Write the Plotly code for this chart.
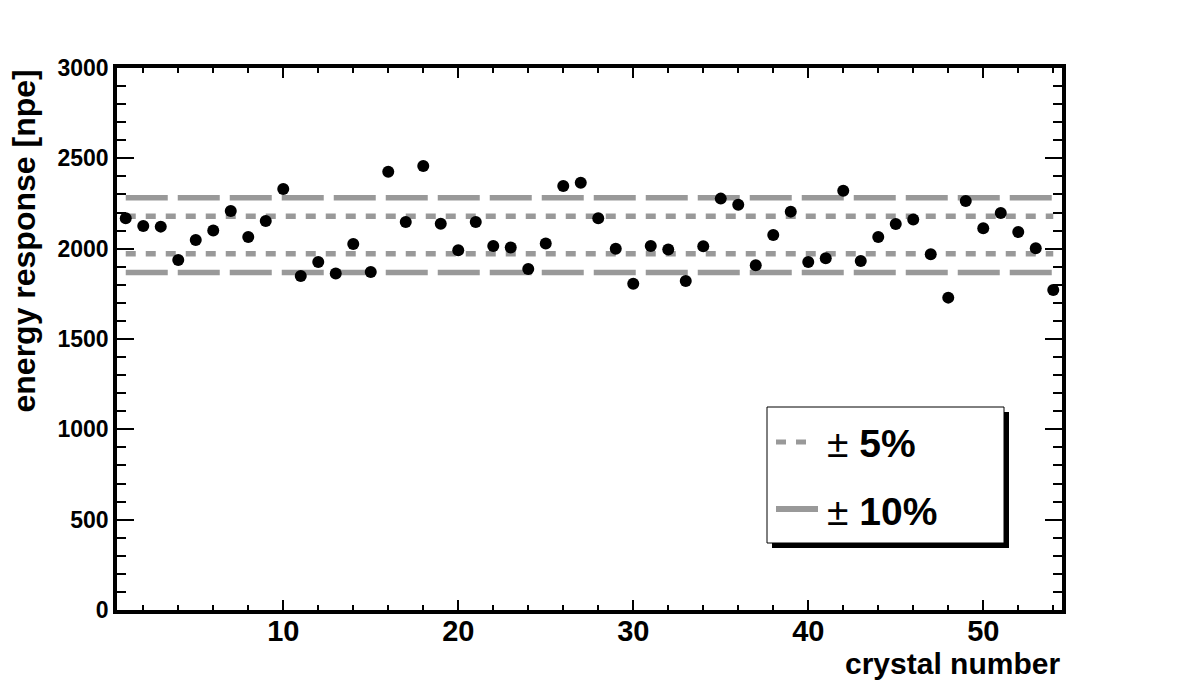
import plotly.graph_objects as go

# ---- data ----
crystal = list(range(1, 55))
response = [2168, 2125, 2122, 1937, 2048, 2100, 2208, 2064, 2153, 2330,
            1849, 1926, 1862, 2026, 1871, 2426, 2148, 2457, 2138, 1991,
            2148, 2015, 2007, 1887, 2028, 2347, 2365, 2168, 2000, 1806,
            2015, 1996, 1821, 2013, 2277, 2243, 1908, 2076, 2205, 1926,
            1947, 2321, 1932, 2064, 2136, 2162, 1969, 1729, 2264, 2113,
            2197, 2092, 2002, 1771]
mean_response = 2075
band_5 = 0.05
band_10 = 0.10
x_ticks = [10, 20, 30, 40, 50]
y_ticks = [0, 500, 1000, 1500, 2000, 2500, 3000]

W, H = 1182, 680
L, R, T, B = 117, 120, 68, 70
PW, PH = W - L - R, H - T - B


def px(xp):
    return (xp - L) / PW


def py(yp):
    return (H - B - yp) / PH


GREY = "#999999"
FONT = "Liberation Sans, Arial, Helvetica, sans-serif"

fig = go.Figure()

x_line = [crystal[0], crystal[-1]]
for sgn in (-1, 1):
    lvl10 = mean_response * (1 + sgn * band_10)
    fig.add_trace(go.Scatter(x=x_line, y=[lvl10, lvl10], mode="lines",
                             line=dict(color=GREY, width=5.5, dash="42px,10px"),
                             showlegend=False, hoverinfo="skip"))
    lvl5 = mean_response * (1 + sgn * band_5)
    fig.add_trace(go.Scatter(x=x_line, y=[lvl5, lvl5], mode="lines",
                             line=dict(color=GREY, width=5.5, dash="10px,10px"),
                             showlegend=False, hoverinfo="skip"))

fig.add_trace(go.Scatter(x=crystal, y=response, mode="markers",
                         marker=dict(color="black", size=12),
                         showlegend=False))

# legend box (drawn in paper space)
shapes = [
    dict(type="rect", xref="paper", yref="paper",
         x0=px(772), x1=px(1009), y0=py(548), y1=py(412),
         fillcolor="black", line=dict(width=0), layer="above"),
    dict(type="rect", xref="paper", yref="paper",
         x0=px(767), x1=px(1004), y0=py(543), y1=py(407),
         fillcolor="white", line=dict(color="black", width=1), layer="above"),
    dict(type="line", xref="paper", yref="paper",
         x0=px(776), x1=px(808), y0=py(442), y1=py(442),
         line=dict(color=GREY, width=5, dash="10px,10px"), layer="above"),
    dict(type="line", xref="paper", yref="paper",
         x0=px(776), x1=px(818), y0=py(509), y1=py(509),
         line=dict(color=GREY, width=6), layer="above"),
]

annotations = [
    dict(text="± <b>5%</b>", xref="paper", yref="paper",
         x=px(825), y=py(444), xanchor="left", yanchor="middle",
         showarrow=False, font=dict(family=FONT, size=39, color="black")),
    dict(text="± <b>10%</b>", xref="paper", yref="paper",
         x=px(825), y=py(511), xanchor="left", yanchor="middle",
         showarrow=False, font=dict(family=FONT, size=39, color="black")),
    dict(text="<b>crystal number</b>", xref="paper", yref="paper",
         x=1.0, y=py(663), xanchor="right", yanchor="middle",
         showarrow=False, font=dict(family=FONT, size=30, color="black")),
    dict(text="<b>energy response [npe]</b>", xref="paper", yref="paper",
         x=px(23), y=1.0, xanchor="center", yanchor="top", textangle=-90,
         showarrow=False, font=dict(family=FONT, size=32, color="black")),
]

fig.update_layout(
    width=W, height=H,
    margin=dict(l=L, r=R, t=T, b=B, pad=0),
    paper_bgcolor="white", plot_bgcolor="white",
    font=dict(family=FONT, color="black"),
    shapes=shapes, annotations=annotations,
    showlegend=False,
)

fig.update_xaxes(range=[0.5, 54.5], tickvals=x_ticks, ticktext=[str(v) for v in x_ticks],
                 ticks="inside", ticklen=10, tickwidth=2, tickcolor="black",
                 minor=dict(dtick=2, tick0=0, ticks="inside", ticklen=5, tickwidth=2, tickcolor="black"),
                 showline=True, linewidth=3.5, linecolor="black", mirror="allticks",
                 showgrid=False, zeroline=False, ticklabelstandoff=-8,
                 tickfont=dict(family=FONT, size=29, weight="bold", color="black"))
fig.update_yaxes(range=[0, 3000], tickvals=y_ticks, ticktext=[str(v) for v in y_ticks],
                 ticks="inside", ticklen=17, tickwidth=2, tickcolor="black",
                 minor=dict(dtick=100, tick0=0, ticks="inside", ticklen=9, tickwidth=2, tickcolor="black"),
                 showline=True, linewidth=3.5, linecolor="black", mirror="allticks",
                 showgrid=False, zeroline=False,
                 tickfont=dict(family=FONT, size=23, weight="bold", color="black"))

fig.write_html("out.html")
